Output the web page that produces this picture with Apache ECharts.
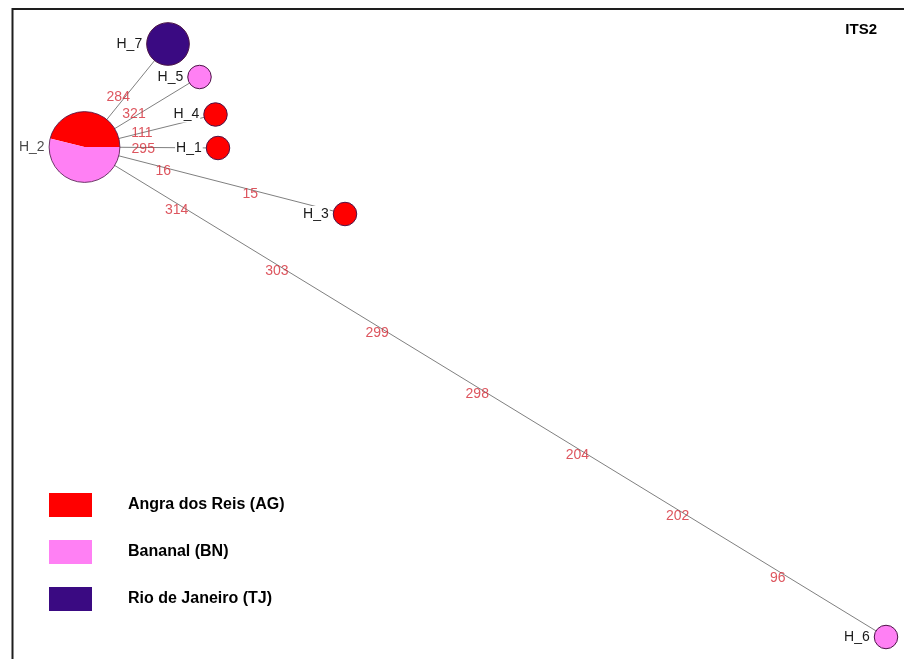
<!DOCTYPE html>
<html>
<head>
<meta charset="utf-8">
<script src="https://cdn.jsdelivr.net/npm/echarts@6/dist/echarts.min.js"></script>
<style>
  html, body { margin: 0; padding: 0; background: #ffffff; }
  #chart { width: 904px; height: 659px; }
</style>
</head>
<body>
<div id="chart"></div>
<script>
// Haplotype network for the ITS2 marker

const populations = ['Angra dos Reis (AG)', 'Bananal (BN)', 'Rio de Janeiro (TJ)'];
const populationColors = ['#ff0000', '#ff80f4', '#3a0a82'];

const haplotypes = ['H_1', 'H_2', 'H_3', 'H_4', 'H_5', 'H_6', 'H_7'];
// network layout position of each haplotype
const hapX = [218, 84.5, 345, 215.5, 199.5, 886, 168];
const hapY = [148, 147, 214, 114.5, 77, 637, 44];
// individuals carrying each haplotype, per population
const countAG = [1, 6, 1, 1, 0, 0, 0];
const countBN = [0, 7, 0, 0, 1, 1, 0];
const countTJ = [0, 0, 0, 0, 0, 0, 4];

// network edges and the mutated sites along each of them
const edgeSource = ['H_2', 'H_2', 'H_2', 'H_2', 'H_2', 'H_2'];
const edgeTarget = ['H_7', 'H_5', 'H_4', 'H_1', 'H_3', 'H_6'];
const edgeMutations = [
  ['284'],
  ['321'],
  ['111'],
  ['295'],
  ['16', '15'],
  ['314', '303', '299', '298', '204', '202', '96']
];

const FONT = 'Arial, "Liberation Sans", sans-serif';
const counts = [countAG, countBN, countTJ];
const total = haplotypes.map((_, i) => countAG[i] + countBN[i] + countTJ[i]);
// node diameter grows with haplotype frequency
const nodeSize = n => 23.5 * Math.pow(n, 0.43);
const idx = name => haplotypes.indexOf(name);

const nodeLabel = {
  show: true, position: 'left', distance: 3,
  formatter: '{b}', color: '#1a1a1a', fontSize: 14, fontFamily: FONT,
  backgroundColor: '#ffffff', padding: [1, 1, 1, 1]
};

// one scatter series per population for haplotypes found in a single population
const singleSeries = populations.map((pop, p) => ({
  type: 'scatter', name: pop, z: 3,
  symbol: 'circle',
  symbolSize: v => nodeSize(v[2]),
  itemStyle: { color: populationColors[p], borderColor: '#4b1446', borderWidth: 1, opacity: 1 },
  label: nodeLabel,
  data: haplotypes
    .map((h, i) => ({ h, i }))
    .filter(({ i }) => counts[p][i] > 0 && counts[p][i] === total[i])
    .map(({ h, i }) => ({ name: h, value: [hapX[i], hapY[i], total[i]] }))
}));

// haplotypes shared between populations are drawn as pies; this series draws their rim and name
const mixed = haplotypes.map((h, i) => i).filter(i => counts.filter(c => c[i] > 0).length > 1);
const mixedRim = {
  type: 'scatter', name: 'shared', z: 5, silent: true,
  symbol: 'circle',
  symbolSize: v => nodeSize(v[2]),
  itemStyle: { color: 'rgba(0,0,0,0)', borderColor: '#4b1446', borderWidth: 1 },
  label: nodeLabel,
  data: mixed.map(i => ({ name: haplotypes[i], value: [hapX[i], hapY[i], total[i]] }))
};

const edgeLines = {
  type: 'lines', coordinateSystem: 'cartesian2d', z: 1, silent: true,
  lineStyle: { color: '#808080', width: 1, opacity: 1, curveness: 0 },
  data: edgeSource.map((s, e) => ({
    coords: [[hapX[idx(s)], hapY[idx(s)]], [hapX[idx(edgeTarget[e])], hapY[idx(edgeTarget[e])]]]
  }))
};

// mutation labels spaced evenly along their edge
const mutationPoints = [];
edgeSource.forEach((s, e) => {
  const a = idx(s), b = idx(edgeTarget[e]);
  const muts = edgeMutations[e];
  muts.forEach((m, k) => {
    const t = (k + 1) / (muts.length + 1);
    mutationPoints.push({
      name: m,
      value: [hapX[a] + (hapX[b] - hapX[a]) * t, hapY[a] + (hapY[b] - hapY[a]) * t]
    });
  });
});
const mutationSeries = {
  type: 'scatter', name: 'mutations', z: 6, silent: true,
  symbolSize: 1,
  itemStyle: { color: 'rgba(0,0,0,0)' },
  label: {
    show: true, position: 'inside', offset: [-8, 2],
    formatter: '{b}', color: '#d42a36', fontSize: 14, fontFamily: FONT
  },
  data: mutationPoints
};

const chart = echarts.init(document.getElementById('chart'), null, { renderer: 'canvas' });

const baseSeries = [edgeLines].concat(singleSeries, [mixedRim, mutationSeries]);

chart.setOption({
  animation: false,
  backgroundColor: '#ffffff',
  color: populationColors,
  title: {
    text: 'ITS2', right: 27, top: 22, padding: 0,
    textStyle: { fontFamily: FONT, fontSize: 15, fontWeight: 'bold', color: '#000' }
  },
  legend: {
    data: populations,
    orient: 'vertical', left: 49, top: 493, padding: 0,
    icon: 'rect', itemWidth: 43, itemHeight: 24, itemGap: 23,
    itemStyle: { borderWidth: 0 },
    selectedMode: false,
    textStyle: { fontFamily: FONT, fontSize: 16, fontWeight: 'bold', color: '#000', padding: [0, 0, 0, 31] }
  },
  grid: { left: 0, right: 0, top: 0, bottom: 0 },
  xAxis: { type: 'value', min: 0, max: 904, show: false },
  yAxis: { type: 'value', min: 0, max: 659, inverse: true, show: false },
  graphic: [{
    type: 'polyline', z: 10, silent: true,
    shape: { points: [[12.5, 659], [12.5, 9], [904, 9]] },
    style: { stroke: '#1e1e1e', lineWidth: 2, fill: null }
  }],
  series: baseSeries
});

// pies for shared haplotypes, placed at their network position
const pieSeries = mixed.map(i => ({
  type: 'pie', name: haplotypes[i], z: 2, silent: true,
  center: chart.convertToPixel({ gridIndex: 0 }, [hapX[i], hapY[i]]),
  radius: nodeSize(total[i]) / 2,
  startAngle: 0, clockwise: false,
  label: { show: false }, labelLine: { show: false },
  itemStyle: { borderWidth: 0 },
  data: populations
    .map((pop, p) => ({ name: pop, value: counts[p][i], itemStyle: { color: populationColors[p] } }))
    .filter(d => d.value > 0)
}));

chart.setOption({ series: baseSeries.concat(pieSeries) });
</script>
</body>
</html>
